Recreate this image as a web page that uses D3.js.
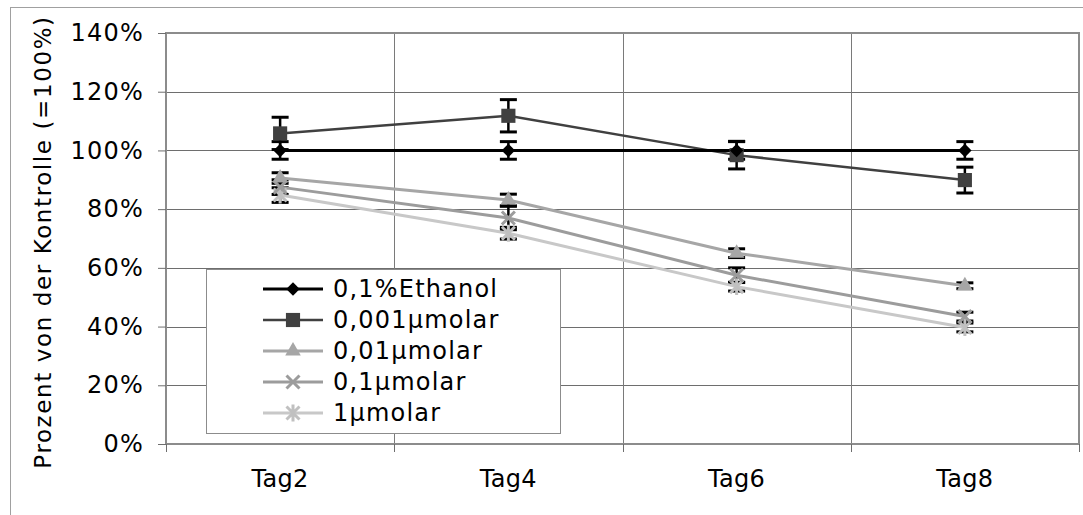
<!DOCTYPE html>
<html>
<head>
<meta charset="utf-8">
<script src="https://cdn.jsdelivr.net/npm/d3@7"></script>
<style>
  body { margin: 0; background: #fff; }
  svg { display: block; font-family: "DejaVu Sans", Verdana, sans-serif; }
</style>
</head>
<body>
<div id="viz"></div>
<script>
// data
const days = ['Tag2', 'Tag4', 'Tag6', 'Tag8'];
const seriesNames = ['0,1%Ethanol', '0,001\u00b5molar', '0,01\u00b5molar', '0,1\u00b5molar', '1\u00b5molar'];
const ethanol = [1.00, 1.00, 1.00, 1.00];
const ethanolErr = [0.03, 0.03, 0.03, 0.03];
const mol0001 = [1.058, 1.118, 0.984, 0.899];
const mol0001Err = [0.055, 0.055, 0.047, 0.044];
const mol001 = [0.906, 0.831, 0.650, 0.539];
const mol001Err = [0.018, 0.02, 0.015, 0.01];
const mol01 = [0.875, 0.770, 0.575, 0.434];
const mol01Err = [0.025, 0.04, 0.025, 0.015];
const mol1 = [0.848, 0.718, 0.536, 0.397];
const mol1Err = [0.025, 0.02, 0.015, 0.015];
const yTicks = [0, 0.2, 0.4, 0.6, 0.8, 1.0, 1.2, 1.4];

const config = {
  width: 1083,
  height: 515,
  plot: { left: 166, right: 1079, top: 33, bottom: 444 }
};

const series = [
  { name: seriesNames[0], values: ethanol, err: ethanolErr, color: '#000000', fill: '#000000', width: 3, marker: 'diamond' },
  { name: seriesNames[1], values: mol0001, err: mol0001Err, color: '#404040', fill: '#404040', width: 2.5, marker: 'square' },
  { name: seriesNames[2], values: mol001, err: mol001Err, color: '#a6a6a6', fill: '#a6a6a6', width: 3, marker: 'triangle' },
  { name: seriesNames[3], values: mol01, err: mol01Err, color: '#9c9c9c', fill: '#9c9c9c', width: 3, marker: 'times' },
  { name: seriesNames[4], values: mol1, err: mol1Err, color: '#c8c8c8', fill: '#c0c0c0', width: 3, marker: 'asterisk' }
];

const svg = d3.select('#viz').append('svg')
  .attr('width', config.width)
  .attr('height', config.height);

// outer chart frame (cut off at the bottom/right)
svg.append('rect')
  .attr('x', 10.5).attr('y', 7.5)
  .attr('width', 1200).attr('height', 600)
  .attr('fill', 'none')
  .attr('stroke', '#a0a0a0');

const x = d3.scaleBand()
  .domain(days)
  .range([config.plot.left, config.plot.right]);

const y = d3.scaleLinear()
  .domain([0, 1.4])
  .range([config.plot.bottom, config.plot.top]);

// grid
const grid = svg.append('g');
grid.selectAll('line.h')
  .data(yTicks)
  .join('line')
  .attr('x1', config.plot.left).attr('x2', config.plot.right)
  .attr('y1', d => Math.round(y(d)) + 0.5).attr('y2', d => Math.round(y(d)) + 0.5)
  .attr('stroke', '#6e6e6e');
grid.selectAll('line.v')
  .data(days.slice(1))
  .join('line')
  .attr('x1', d => Math.round(x(d)) + 0.5).attr('x2', d => Math.round(x(d)) + 0.5)
  .attr('y1', config.plot.top).attr('y2', config.plot.bottom)
  .attr('stroke', '#7a7a7a');

// plot border
svg.append('rect')
  .attr('x', config.plot.left).attr('y', config.plot.top)
  .attr('width', config.plot.right - config.plot.left)
  .attr('height', config.plot.bottom - config.plot.top)
  .attr('fill', 'none')
  .attr('stroke', '#8c8c8c')
  .attr('stroke-width', 2);

// y axis
const yAxis = svg.append('g')
  .attr('transform', `translate(${config.plot.left},0)`)
  .call(d3.axisLeft(y).tickValues(yTicks).tickFormat(d3.format('.0%')).tickSize(8).tickPadding(14));
yAxis.select('.domain').remove();
yAxis.selectAll('.tick line').attr('stroke', '#6e6e6e');
yAxis.selectAll('.tick text')
  .attr('fill', '#000')
  .style('font-size', '24px')
  .style('letter-spacing', '1.2px')
  .style('font-family', '"DejaVu Sans", Verdana, sans-serif');

// x axis: labels at band centers, ticks at band boundaries
const xAxis = svg.append('g')
  .attr('transform', `translate(0,${config.plot.bottom})`)
  .call(d3.axisBottom(x).tickSize(0));
xAxis.select('.domain').remove();
xAxis.selectAll('.tick text')
  .attr('y', 43).attr('dy', 0)
  .attr('fill', '#000')
  .style('font-size', '24px')
  .style('letter-spacing', '0.3px')
  .style('font-family', '"DejaVu Sans", Verdana, sans-serif');
svg.append('g').selectAll('line')
  .data(days.map(d => x(d)).concat([config.plot.right]))
  .join('line')
  .attr('x1', d => Math.round(d) + 0.5).attr('x2', d => Math.round(d) + 0.5)
  .attr('y1', config.plot.bottom).attr('y2', config.plot.bottom + 8)
  .attr('stroke', '#6e6e6e');

// y axis title
svg.append('text')
  .attr('transform', `translate(43,242) rotate(-90)`)
  .attr('text-anchor', 'middle')
  .attr('dominant-baseline', 'central')
  .style('font-size', '23px')
  .style('letter-spacing', '1.6px')
  .text('Prozent von der Kontrolle (=100%)');

// marker shapes
function markerPath(type) {
  switch (type) {
    case 'diamond': return d3.symbol(d3.symbolSquare, 90)();
    case 'square': return d3.symbol(d3.symbolSquare, 200)();
    case 'triangle': return d3.symbol(d3.symbolTriangle, 105)();
    case 'times': { const r = 6.5; return `M${-r},${-r}L${r},${r}M${-r},${r}L${r},${-r}`; }
    case 'asterisk': { const r = 6.5; return `M${-r},${-r}L${r},${r}M${-r},${r}L${r},${-r}M0,${-r * 1.3}L0,${r * 1.3}`; }
  }
}
function drawMarker(sel, s) {
  const stroked = s.marker === 'times' || s.marker === 'asterisk';
  sel.append('path')
    .attr('d', markerPath(s.marker))
    .attr('transform', s.marker === 'diamond' ? 'rotate(45)' : null)
    .attr('fill', stroked ? 'none' : s.fill)
    .attr('stroke', stroked ? s.fill : 'none')
    .attr('stroke-width', stroked ? 3 : 0);
}

const cx = d => x(d) + x.bandwidth() / 2;

// error bars
const errG = svg.append('g');
series.forEach(s => {
  days.forEach((d, i) => {
    const top = y(s.values[i] + s.err[i]);
    const bot = y(s.values[i] - s.err[i]);
    const g = errG.append('g').attr('stroke', '#000').attr('stroke-width', 2.5);
    g.append('line').attr('x1', cx(d)).attr('x2', cx(d)).attr('y1', top).attr('y2', bot);
    g.append('line').attr('x1', cx(d) - 8.5).attr('x2', cx(d) + 8.5).attr('y1', top).attr('y2', top).attr('stroke-width', 3);
    g.append('line').attr('x1', cx(d) - 8.5).attr('x2', cx(d) + 8.5).attr('y1', bot).attr('y2', bot).attr('stroke-width', 3);
  });
});

// lines, lightest first so dark ones sit on top
const line = d3.line().x((v, i) => cx(days[i])).y(v => y(v));
series.slice().reverse().forEach(s => {
  svg.append('path')
    .datum(s.values)
    .attr('d', line)
    .attr('fill', 'none')
    .attr('stroke', s.color)
    .attr('stroke-width', s.width);
});

// markers
series.slice().reverse().forEach(s => {
  s.values.forEach((v, i) => {
    const m = svg.append('g').attr('transform', `translate(${cx(days[i])},${y(v)})`);
    drawMarker(m, s);
  });
});

// legend
const legend = svg.append('g');
legend.append('rect')
  .attr('x', 206.5).attr('y', 269.5)
  .attr('width', 354).attr('height', 164)
  .attr('fill', '#fff')
  .attr('stroke', '#8c8c8c');
series.forEach((s, i) => {
  const ly = 289 + i * 31;
  legend.append('line')
    .attr('x1', 263).attr('x2', 323)
    .attr('y1', ly).attr('y2', ly)
    .attr('stroke', s.color)
    .attr('stroke-width', s.width);
  const m = legend.append('g').attr('transform', `translate(293,${ly})`);
  drawMarker(m, s);
  legend.append('text')
    .attr('x', 333).attr('y', ly)
    .attr('dominant-baseline', 'central')
    .style('font-size', '24px')
    .style('letter-spacing', '1.2px')
    .text(s.name);
});
</script>
</body>
</html>
